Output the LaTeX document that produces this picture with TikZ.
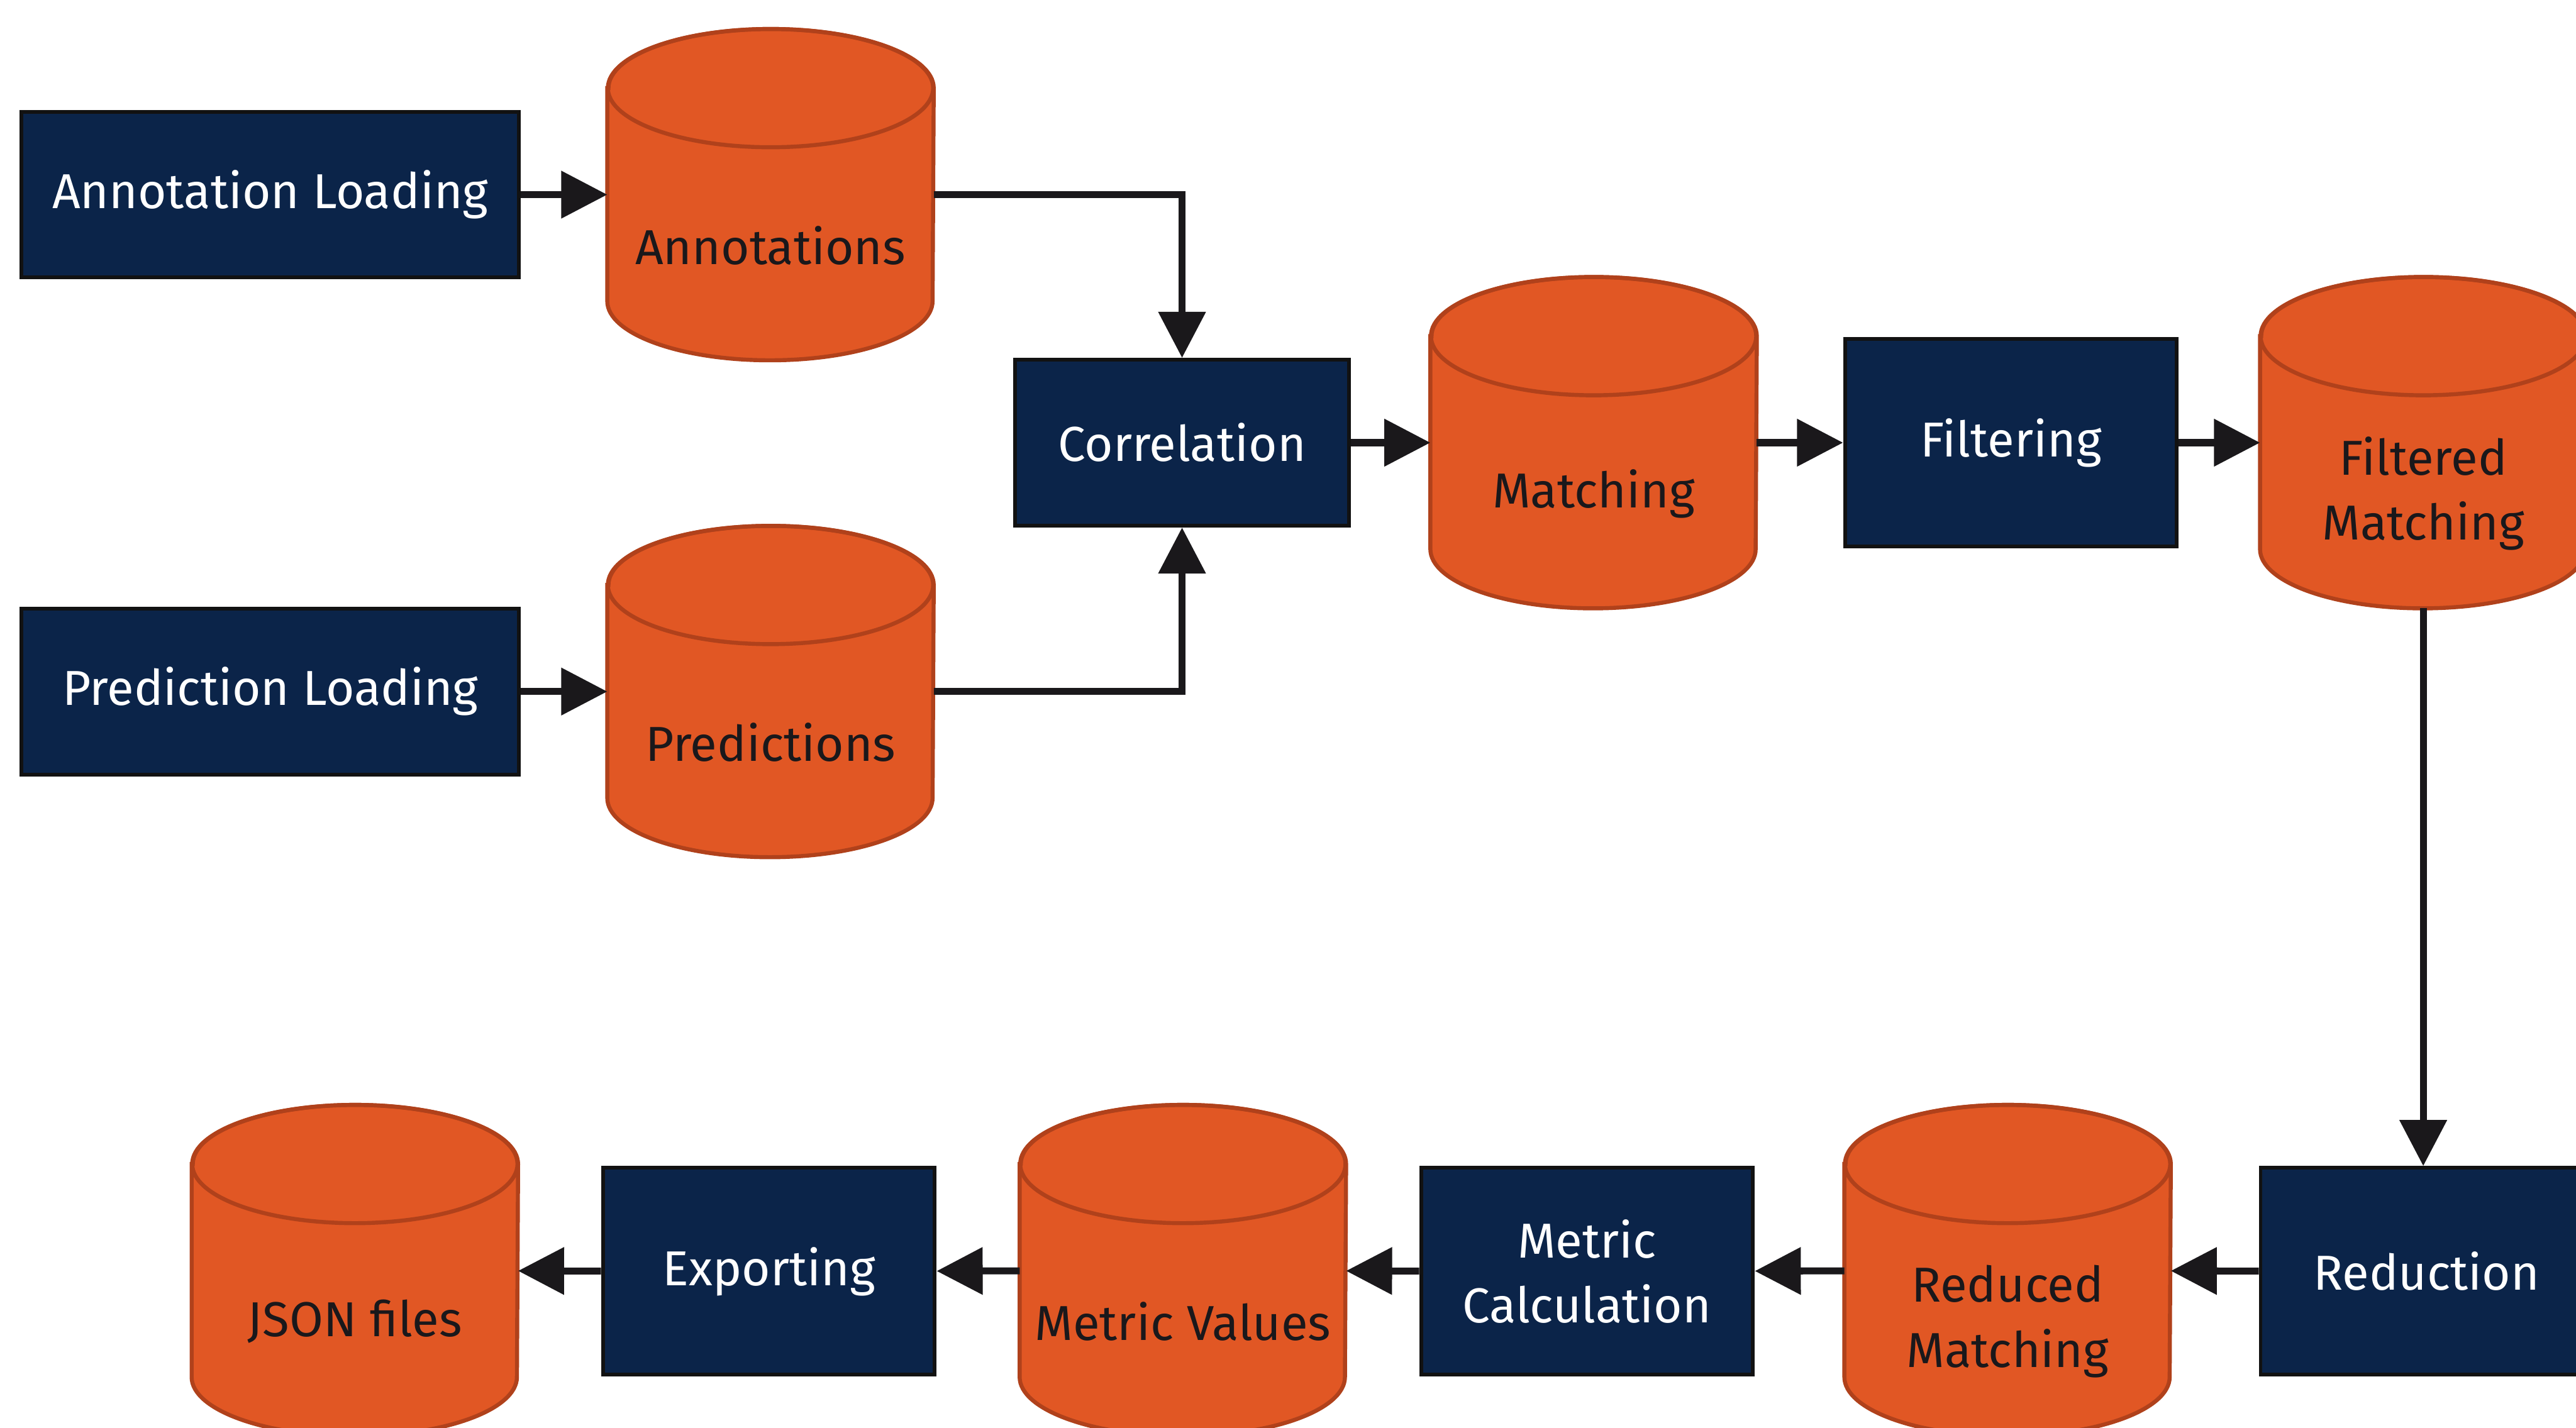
\documentclass[tikz,border=0pt]{standalone}
\usepackage{fontspec}
\setmainfont{Fira Sans}
\usetikzlibrary{arrows.meta,calc}
\definecolor{navy}{HTML}{0B2449}
\definecolor{rust}{HTML}{E15724}
\definecolor{rustline}{HTML}{B0411B}
\definecolor{ink}{HTML}{1A181B}
\newcommand{\dbstore}[3]{%
  \node[storebox] (#1) at (#2) {};
  \filldraw[storeline] ($(#1.north west)+(0,-0.72)$) -- ($(#1.south west)+(0,0.72)$)
    arc[start angle=180,end angle=360,x radius=1.98,y radius=0.72]
    -- ($(#1.north east)+(0,-0.72)$)
    arc[start angle=0,end angle=180,x radius=1.98,y radius=0.72] -- cycle;
  \draw[storeline,fill=none] ($(#1.north)+(0,-0.72)$) ellipse[x radius=1.98,y radius=0.72];
  \node[storetext] (#1-txt) at ([yshift=-0.62cm]#1.center) {#3};
}
\begin{document}
\begin{tikzpicture}[
    proc/.style={rectangle, draw=black!93, line width=1.3pt, fill=navy, text=white,
      minimum width=4.04cm, minimum height=2.52cm, align=center,
      font=\fontsize{17}{22.5}\selectfont},
    storebox/.style={rectangle, inner sep=0pt, minimum width=3.96cm, minimum height=4.02cm},
    storeline/.style={draw=rustline, fill=rust, line width=1.4pt},
    storetext/.style={text=ink, align=center, inner sep=0pt, font=\fontsize{17}{22.5}\selectfont},
    flow/.style={draw=ink, line width=2.4pt, -{Triangle[length=0.56cm,width=0.56cm]}}
  ]
  \useasboundingbox (0,0) rectangle (31.36,-17.38);

  \node[proc, minimum width=6.06cm, minimum height=2.02cm] (annload) at (3.29,-2.37) {Annotation Loading};
  \node[proc, minimum width=6.06cm, minimum height=2.02cm] (predload) at (3.29,-8.42) {Prediction Loading};
  \dbstore{ann}{9.38,-2.37}{Annotations}
  \dbstore{pred}{9.38,-8.42}{Predictions}
  \node[proc, minimum width=4.06cm, minimum height=2.02cm] (corr) at (14.39,-5.39) {Correlation};
  \dbstore{match}{19.40,-5.39}{Matching}
  \node[proc] (filt) at (24.48,-5.39) {Filtering};
  \dbstore{filtmatch}{29.50,-5.39}{Filtered\\Matching}

  \node[proc] (reduc) at (29.54,-15.48) {Reduction};
  \dbstore{redmatch}{24.44,-15.47}{Reduced\\Matching}
  \node[proc] (metcalc) at (19.32,-15.48) {Metric\\Calculation};
  \dbstore{metval}{14.40,-15.47}{Metric Values}
  \node[proc] (export) at (9.36,-15.48) {Exporting};
  \dbstore{json}{4.32,-15.47}{JSON files}

  \draw[flow] (annload) -- (ann);
  \draw[flow] (predload) -- (pred);
  \draw[flow] (ann.east) -| (corr.north);
  \draw[flow] (pred.east) -| (corr.south);
  \draw[flow] (corr) -- (match);
  \draw[flow] (match) -- (filt);
  \draw[flow] (filt) -- (filtmatch);
  \draw[flow] (filtmatch.south) -- (filtmatch.south |- reduc.north);
  \draw[flow] (reduc) -- (redmatch);
  \draw[flow] (redmatch) -- (metcalc);
  \draw[flow] (metcalc) -- (metval);
  \draw[flow] (metval) -- (export);
  \draw[flow] (export) -- (json);
\end{tikzpicture}
\end{document}
